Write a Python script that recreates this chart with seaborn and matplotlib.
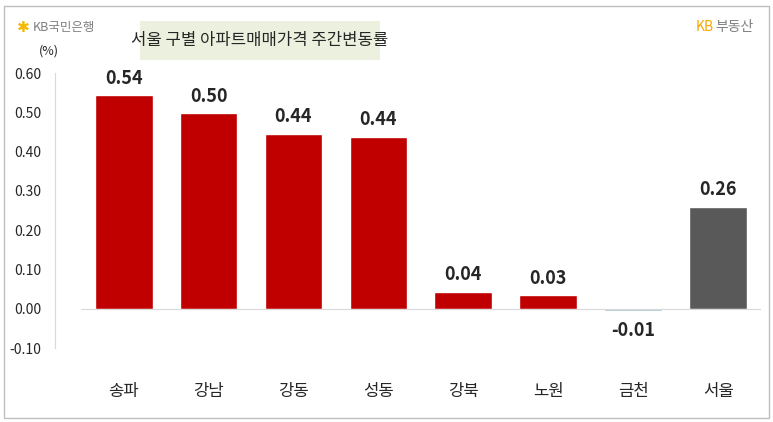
import matplotlib
matplotlib.use("Agg")
import matplotlib.pyplot as plt
import seaborn as sns
import pandas as pd
from matplotlib.patches import Rectangle

sns.set_style("white")
plt.rcParams['font.family'] = ['Noto Sans CJK KR', 'DejaVu Sans']

categories = ["송파", "강남", "강동", "성동", "강북", "노원", "금천", "서울"]
values = [0.543, 0.497, 0.445, 0.437, 0.042, 0.034, -0.005, 0.259]
labels = ["0.54", "0.50", "0.44", "0.44", "0.04", "0.03", "-0.01", "0.26"]
colors = ["#C00000"] * 6 + ["#8EB4C8", "#595959"]
yticks = [-0.10, 0.0, 0.10, 0.20, 0.30, 0.40, 0.50, 0.60]

df = pd.DataFrame({"cat": categories, "val": values})

fig = plt.figure(figsize=(7.73, 4.22), dpi=100)
fig.patches.append(Rectangle((0.005, 0.01), 0.99, 0.975, transform=fig.transFigure,
                             fill=False, edgecolor="#BFBFBF", lw=1))
ax = fig.add_axes([0.105, 0.175, 0.879, 0.652])
sns.barplot(data=df, x="cat", y="val", hue="cat", palette=colors, legend=False,
            width=0.68, ax=ax, saturation=1)
ax.set_ylim(-0.10, 0.60)
ax.set_xlim(-0.5, 7.5)
ax.set_yticks(yticks)
ax.set_yticklabels([f"{t:.2f}" for t in yticks], fontsize=11, fontweight="bold")
ax.get_yticklabels()[0].set_color("#FF0000")
ax.tick_params(axis="y", length=0, pad=10)
ax.tick_params(axis="x", length=0, pad=25, labelsize=12)
ax.set_xlabel("")
ax.set_ylabel("")
for s in ["top", "right", "bottom"]:
    ax.spines[s].set_visible(False)
ax.spines["left"].set_position(("outward", 19))
ax.spines["left"].set_color("#D9D9D9")
ax.axhline(0, color="#D9D9D9", lw=0.8)
for i, (v, l) in enumerate(zip(values, labels)):
    if v >= 0:
        ax.text(i, v + 0.02, l, ha="center", va="bottom", fontsize=13, fontweight="bold")
    else:
        ax.text(i, v - 0.025, l, ha="center", va="top", fontsize=13, fontweight="bold")

fig.text(0.063, 0.87, "(%)", fontsize=9, ha="center")
fig.patches.append(Rectangle((0.181, 0.858), 0.31, 0.092, transform=fig.transFigure,
                             facecolor="#EBF1DE", edgecolor="none"))
fig.text(0.336, 0.904, "서울 구별 아파트매매가격 주간변동률", fontsize=12, ha="center", va="center")
fig.text(0.022, 0.935, "✱", color="#F5B800", fontsize=11, va="center", family=["DejaVu Sans"])
fig.text(0.042, 0.935, "KB국민은행", color="#7F7F7F", fontsize=9, va="center")
fig.text(0.975, 0.935, "부동산", color="#7F7F7F", fontsize=10, va="center", ha="right")
fig.text(0.923, 0.935, "KB", color="#F5A800", fontsize=10, va="center", ha="right")
fig.savefig("out.png", dpi=100)
